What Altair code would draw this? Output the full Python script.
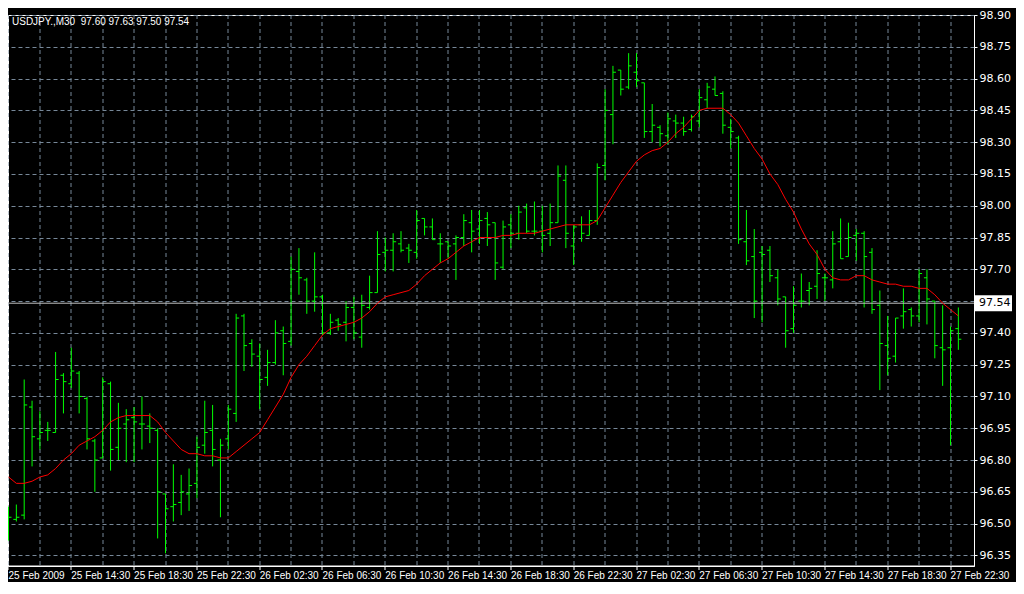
import json
import altair as alt
import pandas as pd

# ---- data (USDJPY M30 bars) ----
opens = [96.55, 96.52, 96.54, 97.05, 96.90, 96.94, 96.93, 97.20, 97.16, 97.21,
         97.09, 96.89, 96.81, 97.16, 96.86, 96.97, 97.00, 96.97, 96.96, 96.94,
         96.64, 96.58, 96.60, 96.64, 96.69, 96.87, 96.94, 96.80, 96.90, 97.02,
         97.48, 97.35, 97.29, 97.19, 97.26, 97.41, 97.36, 97.69, 97.65, 97.55,
         97.57, 97.40, 97.46, 97.45, 97.52, 97.38, 97.52, 97.59, 97.78, 97.79,
         97.82, 97.80, 97.78, 97.94, 97.90, 97.82, 97.83, 97.82, 97.85, 97.92,
         97.89, 97.94, 97.92, 97.71, 97.91, 97.87, 97.99, 97.88, 97.88, 97.87,
         97.92, 98.12, 97.81, 97.91, 97.86, 97.93, 98.19, 98.43, 98.64, 98.56,
         98.63, 98.58, 98.35, 98.37, 98.33, 98.40, 98.39, 98.36, 98.40, 98.50,
         98.55, 98.53, 98.37, 98.32, 97.83, 97.76, 97.78, 97.79, 97.66, 97.57,
         97.42, 97.55, 97.60, 97.62, 97.66, 97.65, 97.83, 97.76, 97.86, 97.87,
         97.78, 97.53, 97.34, 97.29, 97.48, 97.51, 97.48, 97.66, 97.55, 97.33,
         97.33, 97.42]
highs = [96.58, 96.59, 97.18, 97.08, 97.03, 96.98, 97.31, 97.21, 97.33, 97.22,
         97.10, 96.90, 97.19, 97.17, 97.07, 97.04, 97.05, 97.10, 97.02, 96.95,
         96.64, 96.78, 96.73, 96.76, 96.91, 97.08, 97.06, 96.90, 97.06, 97.49,
         97.49, 97.37, 97.35, 97.32, 97.46, 97.43, 97.76, 97.80, 97.66, 97.78,
         97.58, 97.49, 97.47, 97.55, 97.57, 97.58, 97.67, 97.88, 97.85, 97.87,
         97.88, 97.82, 97.98, 97.94, 97.94, 97.87, 97.83, 97.86, 97.96, 97.98,
         97.98, 97.97, 97.92, 97.93, 97.96, 98.00, 98.01, 98.02, 98.00, 98.01,
         98.19, 98.19, 97.91, 97.95, 97.98, 98.20, 98.55, 98.66, 98.64, 98.72,
         98.72, 98.58, 98.48, 98.38, 98.44, 98.43, 98.42, 98.43, 98.55, 98.58,
         98.61, 98.54, 98.41, 98.33, 97.98, 97.89, 97.81, 97.81, 97.70, 97.57,
         97.62, 97.68, 97.64, 97.79, 97.68, 97.88, 97.94, 97.92, 97.89, 97.88,
         97.80, 97.60, 97.48, 97.47, 97.61, 97.52, 97.70, 97.70, 97.55, 97.53,
         97.43, 97.52]
lows = [96.42, 96.51, 96.52, 96.77, 96.85, 96.89, 96.93, 97.02, 97.14, 97.02,
        96.85, 96.65, 96.81, 96.75, 96.80, 96.79, 96.79, 96.85, 96.88, 96.43,
        96.36, 96.51, 96.54, 96.56, 96.62, 96.83, 96.77, 96.53, 96.85, 96.98,
        97.22, 97.24, 97.04, 97.15, 97.25, 97.20, 97.34, 97.58, 97.49, 97.50,
        97.39, 97.39, 97.41, 97.36, 97.37, 97.33, 97.51, 97.59, 97.69, 97.69,
        97.78, 97.73, 97.75, 97.86, 97.84, 97.73, 97.75, 97.65, 97.81, 97.78,
        97.82, 97.81, 97.65, 97.70, 97.80, 97.84, 97.87, 97.86, 97.78, 97.81,
        97.92, 97.80, 97.72, 97.83, 97.86, 97.91, 98.12, 98.29, 98.52, 98.55,
        98.56, 98.32, 98.30, 98.28, 98.29, 98.32, 98.33, 98.35, 98.37, 98.46,
        98.52, 98.34, 98.27, 97.82, 97.72, 97.47, 97.45, 97.64, 97.53, 97.33,
        97.40, 97.52, 97.53, 97.56, 97.55, 97.61, 97.75, 97.76, 97.74, 97.52,
        97.49, 97.13, 97.20, 97.26, 97.42, 97.43, 97.45, 97.44, 97.28, 97.15,
        96.87, 97.32]
closes = [96.53, 96.53, 97.06, 96.91, 96.93, 96.94, 97.18, 97.17, 97.22, 97.10,
          96.90, 96.80, 97.17, 96.85, 96.95, 96.99, 96.98, 96.97, 96.95, 96.65,
          96.57, 96.59, 96.65, 96.68, 96.86, 96.93, 96.85, 96.87, 97.04, 97.47,
          97.34, 97.30, 97.18, 97.26, 97.40, 97.35, 97.70, 97.66, 97.55, 97.57,
          97.40, 97.45, 97.44, 97.52, 97.40, 97.53, 97.59, 97.77, 97.79, 97.83,
          97.79, 97.79, 97.93, 97.90, 97.84, 97.82, 97.81, 97.85, 97.93, 97.88,
          97.93, 97.91, 97.73, 97.90, 97.87, 97.97, 97.88, 97.88, 97.86, 97.92,
          98.14, 97.87, 97.90, 97.87, 97.93, 98.18, 98.45, 98.63, 98.55, 98.66,
          98.59, 98.35, 98.38, 98.34, 98.41, 98.39, 98.35, 98.42, 98.51, 98.56,
          98.52, 98.38, 98.35, 97.84, 97.74, 97.55, 97.77, 97.67, 97.56, 97.41,
          97.53, 97.55, 97.61, 97.68, 97.66, 97.82, 97.75, 97.85, 97.87, 97.76,
          97.51, 97.35, 97.28, 97.47, 97.50, 97.48, 97.68, 97.56, 97.34, 97.32,
          97.41, 97.37]
ma_values = [96.72, 96.69, 96.69, 96.70, 96.72, 96.73, 96.76, 96.80, 96.83, 96.87,
             96.89, 96.91, 96.94, 96.98, 97.00, 97.01, 97.01, 97.01, 97.01, 96.98,
             96.93, 96.89, 96.85, 96.83, 96.83, 96.82, 96.82, 96.81, 96.81, 96.84,
             96.87, 96.90, 96.93, 96.99, 97.05, 97.11, 97.19, 97.25, 97.29, 97.34,
             97.39, 97.42, 97.43, 97.44, 97.45, 97.47, 97.50, 97.54, 97.57, 97.58,
             97.59, 97.60, 97.63, 97.67, 97.70, 97.73, 97.75, 97.78, 97.81, 97.83,
             97.85, 97.85, 97.85, 97.86, 97.86, 97.87, 97.87, 97.87, 97.88, 97.89,
             97.90, 97.91, 97.91, 97.91, 97.91, 97.93, 97.99, 98.05, 98.11, 98.16,
             98.21, 98.24, 98.26, 98.27, 98.30, 98.34, 98.37, 98.41, 98.45, 98.46,
             98.46, 98.46, 98.43, 98.39, 98.33, 98.27, 98.22, 98.15, 98.10, 98.03,
             97.97, 97.89, 97.82, 97.77, 97.70, 97.66, 97.65, 97.65, 97.67, 97.67,
             97.65, 97.64, 97.63, 97.63, 97.62, 97.62, 97.61, 97.61, 97.58, 97.54,
             97.51, 97.48]
x_labels = ["25 Feb 2009", "25 Feb 14:30", "25 Feb 18:30", "25 Feb 22:30",
            "26 Feb 02:30", "26 Feb 06:30", "26 Feb 10:30", "26 Feb 14:30",
            "26 Feb 18:30", "26 Feb 22:30", "27 Feb 02:30", "27 Feb 06:30",
            "27 Feb 10:30", "27 Feb 14:30", "27 Feb 18:30", "27 Feb 22:30"]
y_ticks = [96.35, 96.50, 96.65, 96.80, 96.95, 97.10, 97.25, 97.40, 97.55,
           97.70, 97.85, 98.00, 98.15, 98.30, 98.45, 98.60, 98.75, 98.90]
last_price = [97.54]
header_text = ["USDJPY.,M30\u00a0 97.60 97.63 97.50 97.54"]

# ---- chart ----
W, H = 966, 551
STEP = 7.85            # pixels per bar
Y_FONT = "DejaVu Sans"
X_FONT = "Liberation Sans"
BAR_GREEN = "#00ff00"
GRID = "#778899"

df = pd.DataFrame({"i": list(range(len(opens))), "o": opens, "h": highs,
                   "l": lows, "c": closes, "ma": ma_values})

d0 = -0.5 / STEP
xscale = alt.Scale(domain=[d0, d0 + W / STEP], nice=False, zero=False)
yscale = alt.Scale(domain=[96.30, 98.90], nice=False, zero=False)

label_expr = ("datum.value % 8 === 0 ? " + json.dumps(x_labels) +
              "[datum.value / 8] : ''")
xaxis = alt.Axis(values=list(range(0, len(opens), 4)), grid=True,
                 gridColor=GRID, gridDash=[4, 3], gridWidth=1,
                 labelExpr=label_expr, labelAlign="left", labelColor="white",
                 labelFont=X_FONT, labelFontSize=10, labelPadding=1,
                 labelOverlap=False, labelFlush=False, labelBound=False,
                 tickColor={"condition": {"test": "datum.value % 8 === 0",
                                          "value": "white"},
                            "value": "rgba(0,0,0,0)"},
                 tickSize=4, domainColor="white", title=None, translate=0)
yaxis = alt.Axis(orient="right", values=y_ticks, format=".2f", grid=True,
                 gridColor=GRID, gridDash=[4, 3], labelColor="white",
                 labelFont=Y_FONT, labelFontSize=11, labelPadding=2,
                 tickColor="white", tickSize=3, domainColor="white",
                 title=None, labelOverlap=False, labelFlush=False)

base = alt.Chart(df)
hl = base.mark_rule(color=BAR_GREEN, strokeWidth=1).encode(
    x=alt.X("i:Q", scale=xscale, axis=xaxis),
    y=alt.Y("l:Q", scale=yscale, axis=yaxis),
    y2="h:Q")
open_tick = base.mark_rule(color=BAR_GREEN, strokeWidth=1, xOffset=-3,
                           x2Offset=0).encode(
    x=alt.X("i:Q", scale=xscale, axis=xaxis), x2="i:Q",
    y=alt.Y("o:Q", scale=yscale, axis=yaxis))
close_tick = base.mark_rule(color=BAR_GREEN, strokeWidth=1, xOffset=0,
                            x2Offset=3).encode(
    x=alt.X("i:Q", scale=xscale, axis=xaxis), x2="i:Q",
    y=alt.Y("c:Q", scale=yscale, axis=yaxis))
ma_line = base.mark_line(color="#ff0000", strokeWidth=1).encode(
    x=alt.X("i:Q", scale=xscale, axis=xaxis),
    y=alt.Y("ma:Q", scale=yscale, axis=yaxis))

pdf = pd.DataFrame({"p": last_price})
price_line = alt.Chart(pdf).mark_rule(color="#c0c0c0", strokeWidth=1).encode(
    y=alt.Y("p:Q", scale=yscale, axis=yaxis))
price_box = alt.Chart(pdf).mark_rect(color="white", yOffset=-8,
                                     y2Offset=8).encode(
    x=alt.value(W + 1), x2=alt.value(W + 38),
    y=alt.Y("p:Q", scale=yscale, axis=yaxis), y2="p:Q")
price_text = alt.Chart(pdf).mark_text(color="black", align="left",
                                      baseline="middle", font=Y_FONT,
                                      fontSize=11).encode(
    x=alt.value(W + 5), y=alt.Y("p:Q", scale=yscale, axis=yaxis),
    text=alt.Text("p:Q", format=".2f"))

header = alt.Chart(pd.DataFrame({"t": header_text})).mark_text(
    color="white", align="left", baseline="middle", font=X_FONT,
    fontSize=10).encode(x=alt.value(4), y=alt.value(7), text="t:N")

chart = alt.layer(hl, open_tick, close_tick, price_line, ma_line,
                  price_box, price_text, header).properties(
    width=W, height=H,
    autosize=alt.AutoSizeParams(type="none"),
    padding={"left": 0, "top": 7, "right": 42, "bottom": 16},
    background="black",
).configure_view(stroke="white", strokeWidth=1)

chart.save("out.html", embed_options={"renderer": "svg", "actions": False})
